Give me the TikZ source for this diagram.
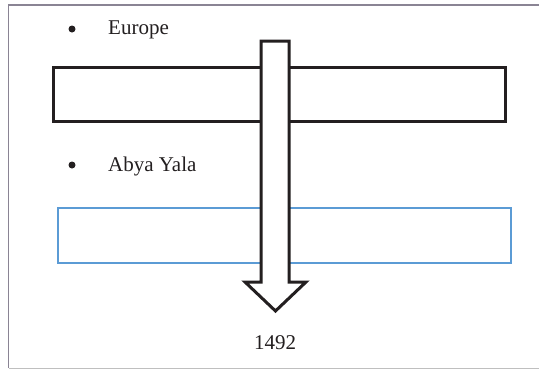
\documentclass[tikz,border=0pt]{standalone}
\usepackage{fontspec}
\setmainfont{Liberation Serif}
\definecolor{frame}{HTML}{8A8494}
\definecolor{officeblue}{HTML}{5B9BD5}
\definecolor{inkblack}{HTML}{231F20}
\begin{document}
\begin{tikzpicture}[x=1pt,y=-1pt,
  boxblack/.style={draw=inkblack,line width=3pt,fill=none},
  boxblue/.style={draw=officeblue,line width=2.5pt,fill=none},
  label/.style={font=\fontsize{21}{25}\selectfont,text=inkblack,inner sep=0pt,anchor=base west},
  bulletdot/.style={circle,fill=inkblack,inner sep=0pt,minimum size=7pt}]
\useasboundingbox (0,0) rectangle (539,370);
\fill[white] (0,0) rectangle (539,370);
\draw[frame,line width=1.5pt] (560,5) -- (8.5,5) -- (8.5,368);
\draw[black!25,line width=1.5pt] (8.5,368.5) -- (560,368.5);
\node[bulletdot] (b1) at (72,29) {};
\node[label] (europe) at (108,34) {Europe};
\node[bulletdot] (b2) at (72,165) {};
\node[label] (abya) at (108,171) {Abya Yala};
\draw[boxblack] (53,67.5) rectangle (505,121);
\draw[boxblue] (58,208) rectangle (511,263);
\draw[draw=inkblack,line width=3pt,fill=white,line join=miter]
  (261,41) -- (289,41) -- (289,282) -- (306,282) -- (275.5,311) -- (245,282) -- (261,282) -- cycle;
\node[font=\fontsize{21}{25}\selectfont,text=inkblack,inner sep=0pt,anchor=base] (year) at (275,349) {1492};
\end{tikzpicture}
\end{document}
